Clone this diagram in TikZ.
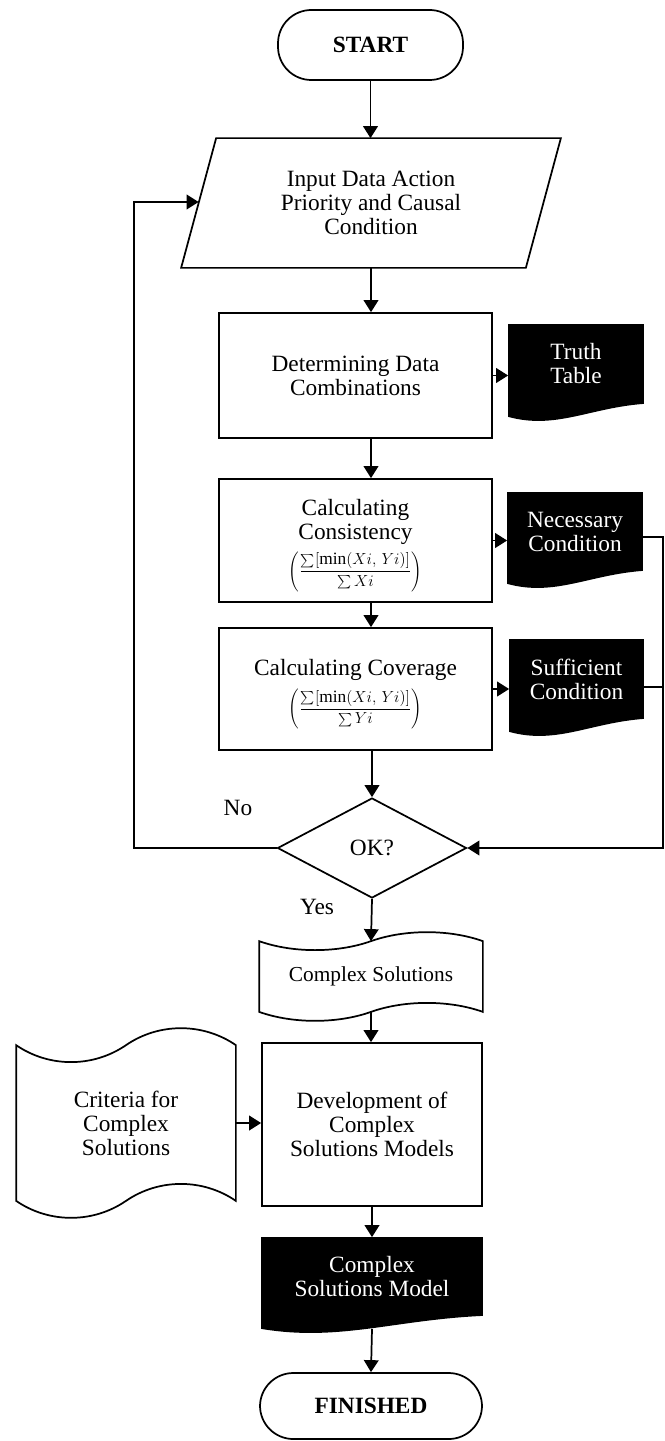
\documentclass[tikz,border=0pt]{standalone}
\usepackage{fontspec}
\setmainfont{Liberation Serif}
\usetikzlibrary{arrows.meta,shapes.geometric,calc,backgrounds}

\newcommand\mainsize{\fontsize{17.5}{18}\selectfont}
% ratio used for consistency / coverage
\newcommand\ratio[1]{{\fontsize{13}{13}\selectfont$\displaystyle\left(\frac{\sum[\min(Xi,\,Yi)]}{\sum #1}\right)$}}

% document symbol: flat top, wavy bottom, filled black
\newcommand\docwave[1]{%
  \fill[black] (#1.north west) -- (#1.north east) -- (#1.south east)
    .. controls ($(#1.south west)!0.6!(#1.south east)+(0,4)$)
       and ($(#1.south west)!0.35!(#1.south east)+(0,26)$) .. ($(#1.south west)+(0,13)$)
    -- cycle;}

% punched tape symbol: wavy top and bottom
\newcommand\tape[2]{%
  \draw[line, fill=white] (#1.north west)
    .. controls ($(#1.north west)!0.15!(#1.north east)+(0,1.33*#2)$)
       and ($(#1.north west)!0.35!(#1.north east)+(0,1.33*#2)$) .. (#1.north)
    .. controls ($(#1.north west)!0.65!(#1.north east)-(0,1.33*#2)$)
       and ($(#1.north west)!0.85!(#1.north east)-(0,1.33*#2)$) .. (#1.north east)
    -- (#1.south east)
    .. controls ($(#1.south west)!0.85!(#1.south east)-(0,1.33*#2)$)
       and ($(#1.south west)!0.65!(#1.south east)-(0,1.33*#2)$) .. (#1.south)
    .. controls ($(#1.south west)!0.35!(#1.south east)+(0,1.33*#2)$)
       and ($(#1.south west)!0.15!(#1.south east)+(0,1.33*#2)$) .. (#1.south west)
    -- cycle;}

\tikzset{
  sz/.style 2 args={minimum width=#1*0.75pt, minimum height=#2*0.75pt},
  base/.style={font=\mainsize, align=center, inner sep=0pt, line width=1.3pt},
  procbox/.style={base, draw, rectangle},
  term/.style={base, draw, rectangle, rounded corners=25pt, font=\mainsize\bfseries},
  blank/.style={base, rectangle},
  docnode/.style={base, rectangle, text=white},
  decision/.style={base, draw, diamond},
  lbl/.style={font=\mainsize, inner sep=0pt},
  line/.style={line width=1.3pt},
  conn/.style={line, -{Triangle[length=9pt,width=11pt]}},
}

\begin{document}
\begin{tikzpicture}[x=0.75pt, y=-0.75pt]
\useasboundingbox (0,0) rectangle (664,1441);

% main column
\node[term, sz={185}{70}] (start) at (370.5,45) {START};
\node[blank, sz={343}{128}] (input) at (371,203) {Input Data Action\\Priority and Causal\\Condition};
\node[procbox, sz={273}{125}] (comb) at (355.5,375.5) {Determining Data\\Combinations};
\node[procbox, sz={273}{123}] (cons) at (355.5,540.5) {\rule{0pt}{19.5pt}Calculating\\Consistency\\[4.5pt]\ratio{Xi}};
\node[procbox, sz={273}{122}] (cov) at (355.5,689) {\rule{0pt}{20pt}Calculating Coverage\\[5pt]\ratio{Yi}};
\node[decision, sz={189}{100}] (ok) at (372,848) {OK?};
\node[blank, sz={222}{69}, font=\fontsize{16}{18}\selectfont] (cs) at (371,976.5) {Complex Solutions};
\node[procbox, sz={220}{163}] (dev) at (372,1124.5) {Development of\\Complex\\Solutions Models};
\node[docnode, sz={220}{77}] (model) at (372,1276.5) {Complex\\Solutions Model};
\node[term, sz={222}{66}] (fin) at (371,1406) {FINISHED};

% side outputs and inputs
\node[docnode, sz={134}{78}] (truth) at (576,364) {Truth\\Table};
\node[docnode, sz={134}{77}] (nec) at (575,531.5) {Necessary\\Condition};
\node[docnode, sz={133}{78}] (suf) at (576.5,679) {Sufficient\\Condition};
\node[blank, sz={218}{154}] (crit) at (126,1123) {Criteria for\\Complex\\Solutions};

% branch labels
\node[lbl] (no) at (238,808) {No};
\node[lbl] (yes) at (317,907) {Yes};

% shapes drawn behind the texts
\begin{scope}[on background layer]
  \draw[line] ($(input.north west)+(17.5,0)$) -- ($(input.north east)+(17.5,0)$)
    -- ($(input.south east)+(-17.5,0)$) -- ($(input.south west)+(-17.5,0)$) -- cycle;
  \docwave{truth}
  \docwave{nec}
  \docwave{suf}
  \docwave{model}
  \tape{cs}{9}
  \tape{crit}{17}
\end{scope}

% connectors
\coordinate (rail) at (663,848);
\coordinate (loop) at (134,848);
\coordinate (inlet) at ($(input.west)+(0,-1)$);

\draw[conn] (start) -- (start |- input.north);
\draw[conn] (input.south) -- (input.south |- comb.north);
\draw[conn] (input.south |- comb.south) -- (input.south |- cons.north);
\draw[conn] (input.south |- cons.south) -- (input.south |- cov.north);
\draw[conn] (ok.north |- cov.south) -- (ok.north);
\draw[conn] (comb.east) -- (comb.east -| truth.west);
\draw[conn] (cons.east) -- (cons.east -| nec.west);
\draw[conn] (cov.east) -- (cov.east -| suf.west);
\draw[conn] ([yshift=-4pt]nec.east) -| (rail) -- (ok.east);
\draw[line] ([yshift=-6pt]suf.east) -- ([yshift=-6pt]suf.east -| rail);
\draw[conn] (ok.west) -- (loop) |- (inlet);
\draw[conn] (ok.south) -- (cs.north);
\draw[conn] (cs.south) -- (cs.south |- dev.north);
\draw[conn] (crit.east) -- (crit.east -| dev.west);
\draw[conn] (dev.south) -- (model.north);
\draw[conn] ($(model.south)+(0,13)$) -- (fin.north);
\end{tikzpicture}
\end{document}
